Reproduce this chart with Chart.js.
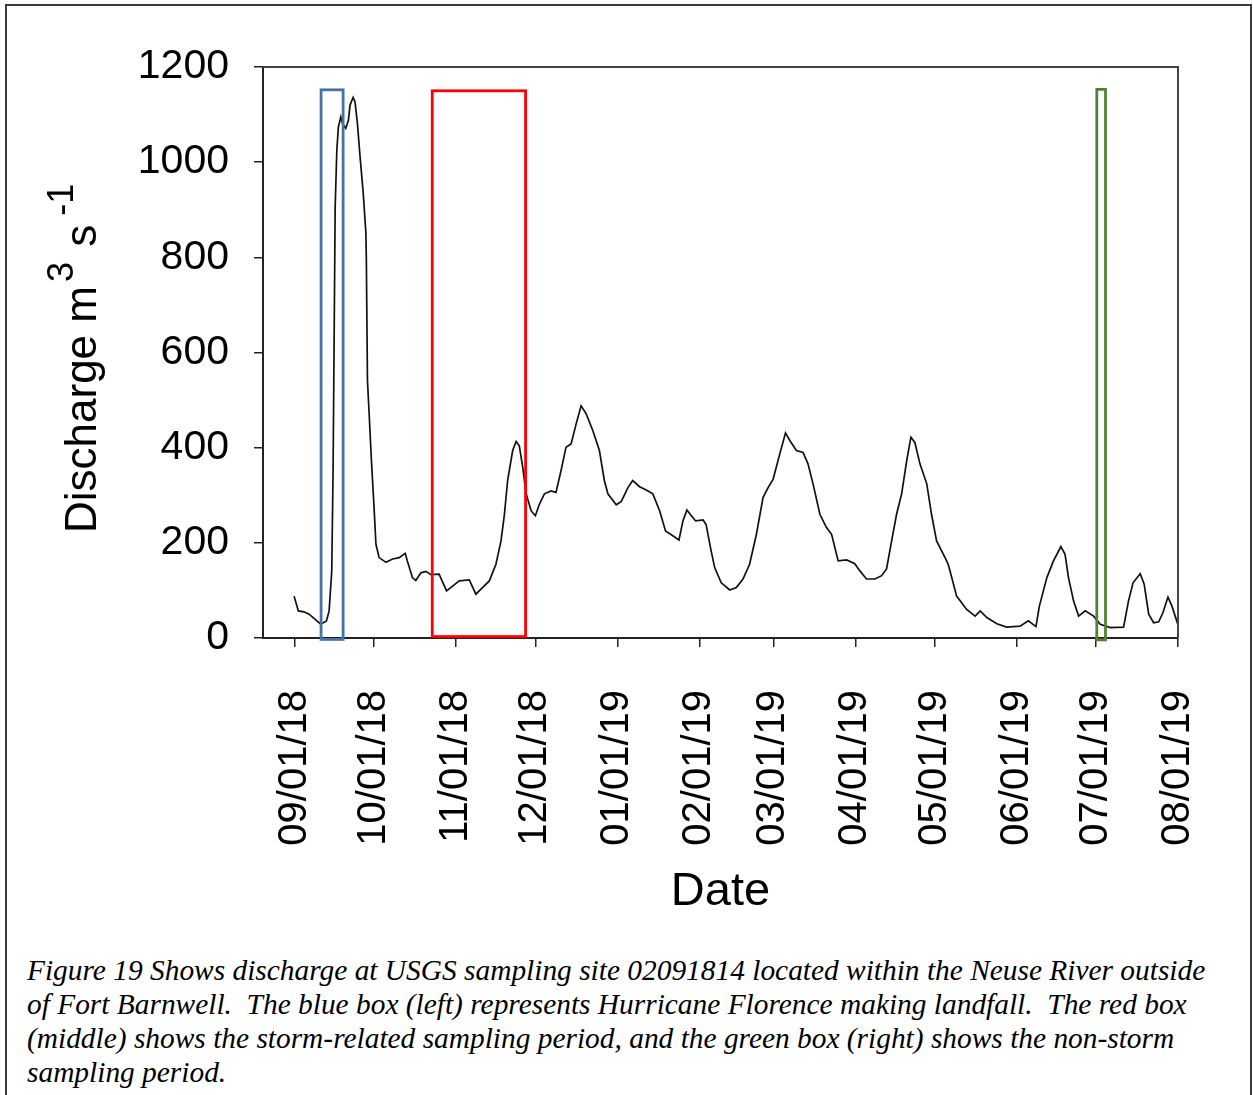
<!DOCTYPE html>
<html>
<head>
<meta charset="utf-8">
<title>Neuse River discharge, Fort Barnwell</title>
<script src="https://cdn.jsdelivr.net/npm/chart.js@4.4.1/dist/chart.umd.min.js"></script>
<style>
  html, body { margin: 0; padding: 0; background: #fff; overflow: hidden; width: 1253px; height: 1095px; }
  #frame { position: absolute; left: 5px; top: 4px; width: 1243px; height: 1200px;
           border: 2px solid #3a3a3a; border-bottom: none; }
  #wrap { position: absolute; left: 0; top: 0; width: 1253px; height: 930px; }
  #caption { position: absolute; left: 27px; top: 953px; width: 1220px;
             font-family: "Liberation Serif", "Times New Roman", serif; font-style: italic;
             font-size: 29.4px; line-height: 34px; color: #000; white-space: pre; }
</style>
</head>
<body>
<div id="frame"></div>
<div id="wrap"><canvas id="chart" width="1253" height="930"></canvas></div>
<div id="caption">Figure 19 Shows discharge at USGS sampling site 02091814 located within the Neuse River outside
of Fort Barnwell.  The blue box (left) represents Hurricane Florence making landfall.  The red box
(middle) shows the storm-related sampling period, and the green box (right) shows the non-storm
sampling period.</div>
<script>
// Discharge readings (UTC, YYYY-MM-DDTHH) and values in m3/s
const sampleTimes = [
  '2018-08-31T18','2018-09-02T09','2018-09-04T12','2018-09-06T10','2018-09-10T20','2018-09-13T00',
  '2018-09-14T00','2018-09-15T00','2018-09-15T12','2018-09-16T07','2018-09-16T22','2018-09-17T12',
  '2018-09-18T10','2018-09-19T00','2018-09-20T07','2018-09-21T07','2018-09-21T22','2018-09-23T02',
  '2018-09-23T19','2018-09-24T17','2018-09-25T17','2018-09-26T22','2018-09-27T22','2018-09-28T02',
  '2018-09-28T12','2018-09-29T02','2018-09-30T00','2018-10-01T00','2018-10-01T17','2018-10-02T22',
  '2018-10-05T12','2018-10-08T00','2018-10-10T12','2018-10-12T19','2018-10-13T14','2018-10-15T12',
  '2018-10-16T19','2018-10-18T17','2018-10-20T14','2018-10-22T12','2018-10-25T14','2018-10-28T10',
  '2018-10-30T17','2018-11-02T05','2018-11-06T00','2018-11-08T12','2018-11-11T00','2018-11-13T14',
  '2018-11-16T02','2018-11-18T00','2018-11-19T07','2018-11-20T12','2018-11-22T10','2018-11-23T17',
  '2018-11-24T22','2018-11-26T05','2018-11-27T12','2018-11-29T10','2018-12-01T00','2018-12-02T12',
  '2018-12-04T10','2018-12-06T22','2018-12-08T19','2018-12-10T17','2018-12-12T14','2018-12-14T12',
  '2018-12-16T10','2018-12-18T07','2018-12-20T05','2018-12-22T17','2018-12-25T05','2018-12-27T02',
  '2018-12-28T10','2018-12-31T14','2019-01-02T12','2019-01-05T00','2019-01-06T19','2019-01-09T10',
  '2019-01-11T22','2019-01-14T10','2019-01-17T00','2019-01-19T05','2019-01-21T10','2019-01-24T07',
  '2019-01-25T19','2019-01-27T07','2019-01-29T00','2019-01-30T14','2019-02-02T10','2019-02-03T14',
  '2019-02-05T05','2019-02-06T19','2019-02-09T07','2019-02-12T12','2019-02-15T00','2019-02-17T12',
  '2019-02-20T00','2019-02-22T14','2019-02-25T02','2019-02-27T00','2019-02-28T22','2019-03-03T10',
  '2019-03-05T14','2019-03-07T05','2019-03-09T17','2019-03-12T05','2019-03-14T02','2019-03-16T00',
  '2019-03-18T14','2019-03-21T02','2019-03-23T00','2019-03-25T12','2019-03-28T17','2019-03-31T19',
  '2019-04-02T17','2019-04-05T05','2019-04-08T10','2019-04-10T22','2019-04-12T19','2019-04-14T17',
  '2019-04-16T14','2019-04-18T12','2019-04-20T10','2019-04-22T00','2019-04-23T12','2019-04-25T10',
  '2019-04-28T00','2019-04-29T19','2019-05-01T17','2019-05-03T00','2019-05-04T22','2019-05-06T02',
  '2019-05-06T19','2019-05-09T07','2019-05-13T02','2019-05-16T07','2019-05-18T05','2019-05-20T17',
  '2019-05-24T12','2019-05-28T05','2019-06-02T07','2019-06-05T10','2019-06-08T07','2019-06-09T14',
  '2019-06-12T10','2019-06-14T22','2019-06-17T17','2019-06-19T07','2019-06-20T14','2019-06-22T12',
  '2019-06-24T10','2019-06-26T22','2019-06-30T02','2019-07-02T14','2019-07-06T10','2019-07-11T10',
  '2019-07-13T07','2019-07-15T00','2019-07-17T17','2019-07-19T05','2019-07-20T22','2019-07-22T19',
  '2019-07-24T17','2019-07-26T07','2019-07-28T05','2019-07-29T17','2019-07-31T22'
];
const discharge = [
  88, 57, 55, 50, 29, 36,
  57, 141, 352, 906, 1025, 1074,
  1095, 1082, 1071, 1088, 1120, 1136,
  1127, 1081, 1011, 934, 850, 794,
  541, 478, 373, 274, 197, 169,
  159, 166, 169, 178, 162, 127,
  121, 137, 140, 133, 134, 99,
  109, 120, 122, 92, 106, 120,
  155, 204, 260, 331, 394, 413,
  404, 359, 303, 267, 257, 281,
  303, 309, 306, 352, 401, 408,
  450, 488, 471, 436, 394, 331,
  303, 280, 287, 316, 331, 318,
  311, 303, 267, 225, 217, 206,
  246, 269, 257, 246, 248, 238,
  190, 148, 116, 101, 106, 124,
  155, 218, 295, 316, 334, 387,
  431, 415, 394, 390, 366, 324,
  260, 232, 218, 162, 164, 156,
  141, 124, 124, 131, 145, 204,
  260, 303, 373, 422, 411, 366,
  324, 260, 204, 190, 169, 155,
  141, 88, 60, 46, 57, 43,
  30, 23, 25, 36, 24, 67,
  127, 162, 192, 176, 127, 78,
  46, 57, 46, 29, 22, 23,
  78, 116, 135, 113, 50, 32,
  34, 53, 86, 67, 29
];

// Month ticks on the date axis
const monthTicks = ['2018-09-01','2018-10-01','2018-11-01','2018-12-01','2019-01-01','2019-02-01',
                    '2019-03-01','2019-04-01','2019-05-01','2019-06-01','2019-07-01','2019-08-01'];
const monthLabels = ['09/01/18','10/01/18','11/01/18','12/01/18','01/01/19','02/01/19',
                     '03/01/19','04/01/19','05/01/19','06/01/19','07/01/19','08/01/19'];
const yTicks = [0, 200, 400, 600, 800, 1000, 1200];

// Highlighted periods: Florence landfall, storm sampling, non-storm sampling
const periodNames  = ['Hurricane Florence landfall', 'Storm-related sampling', 'Non-storm sampling'];
const periodStart  = ['2018-09-10T23', '2018-10-23T00', '2019-07-01T07'];
const periodEnd    = ['2018-09-19T07', '2018-11-27T07', '2019-07-04T14'];
const periodTop    = [1152, 1150, 1153];
const periodBottom = [-3, 3, -4];
const periodColors = ['#4673a6', '#ff0000', '#548235'];

const toMs = s => Date.parse(s.length === 10 ? s + 'T00:00:00Z' : s + ':00:00Z');

const points = sampleTimes.map((t, i) => ({ x: toMs(t), y: discharge[i] }));

const FONT = '"Liberation Sans", Arial, Helvetica, sans-serif';
Chart.defaults.font.family = FONT;
Chart.defaults.color = '#000';

const decorations = {
  id: 'decorations',
  afterDatasetsDraw(chart) {
    const { ctx, chartArea: a, scales: { x, y } } = chart;
    ctx.save();
    // top and right edges of the plot frame
    ctx.strokeStyle = '#444';
    ctx.lineWidth = 2;
    ctx.beginPath();
    ctx.moveTo(a.left, a.top);
    ctx.lineTo(a.right, a.top);
    ctx.lineTo(a.right, a.bottom);
    ctx.stroke();
    // period boxes
    periodStart.forEach((s, i) => {
      const x0 = x.getPixelForValue(toMs(s));
      const x1 = x.getPixelForValue(toMs(periodEnd[i]));
      const y0 = y.getPixelForValue(periodTop[i]);
      const y1 = y.getPixelForValue(periodBottom[i]);
      ctx.strokeStyle = periodColors[i];
      ctx.lineWidth = 2.8;
      ctx.strokeRect(x0, y0, x1 - x0, y1 - y0);
    });
    ctx.restore();
  },
  afterDraw(chart) {
    // y-axis title with superscripts: Discharge m^3 s^-1
    const { ctx } = chart;
    const big = 44, small = 36, rise = 23;
    ctx.save();
    ctx.translate(96, 533);
    ctx.rotate(-Math.PI / 2);
    ctx.fillStyle = '#000';
    ctx.textBaseline = 'alphabetic';
    ctx.textAlign = 'left';
    let pos = 0;
    const run = (text, size, dy) => {
      ctx.font = size + 'px ' + FONT;
      ctx.fillText(text, pos, dy);
      pos += ctx.measureText(text).width;
    };
    run('Discharge m', big, 0);
    pos += 4;
    run('3', small, -rise);
    pos += 3;
    run(' s', big, 0);
    pos += 9;
    run('-1', small, -rise);
    ctx.restore();
  }
};

new Chart(document.getElementById('chart'), {
  type: 'line',
  data: {
    datasets: [{
      label: 'Discharge',
      data: points,
      borderColor: '#111',
      borderWidth: 1.7,
      pointRadius: 0,
      tension: 0,
      fill: false
    }]
  },
  options: {
    responsive: false,
    animation: false,
    events: [],
    layout: { padding: { left: 0, top: 67, right: 75, bottom: 0 } },
    plugins: { legend: { display: false }, tooltip: { enabled: false } },
    scales: {
      x: {
        type: 'linear',
        min: toMs('2018-08-20'),
        max: toMs('2019-08-01'),
        afterBuildTicks(scale) {
          scale.ticks = monthTicks.map(d => ({ value: toMs(d) }));
        },
        afterFit(scale) {
          scale.height = 930 - 638;
          scale.paddingLeft = 0;
          scale.paddingRight = 0;
        },
        ticks: {
          autoSkip: false,
          minRotation: 90,
          maxRotation: 90,
          padding: 43,
          font: { size: 40 },
          color: '#000',
          callback(value, index) { return monthLabels[index]; }
        },
        grid: { drawOnChartArea: false, tickLength: 9, color: '#222', lineWidth: 1.5 },
        border: { color: '#222', width: 2 },
        title: { display: true, text: 'Date', font: { size: 47 }, color: '#000', padding: { top: 0, bottom: 10 } }
      },
      y: {
        min: 0,
        max: 1200,
        afterBuildTicks(scale) {
          scale.ticks = yTicks.map(v => ({ value: v }));
        },
        afterFit(scale) {
          scale.width = 263;
          scale.paddingTop = 0;
          scale.paddingBottom = 0;
        },
        ticks: {
          padding: 25,
          font: { size: 41 },
          color: '#000',
          callback(value) { return String(value); }
        },
        grid: { drawOnChartArea: false, tickLength: 9, color: '#222', lineWidth: 1.5 },
        border: { color: '#222', width: 2 }
      }
    }
  },
  plugins: [decorations]
});
</script>
</body>
</html>
